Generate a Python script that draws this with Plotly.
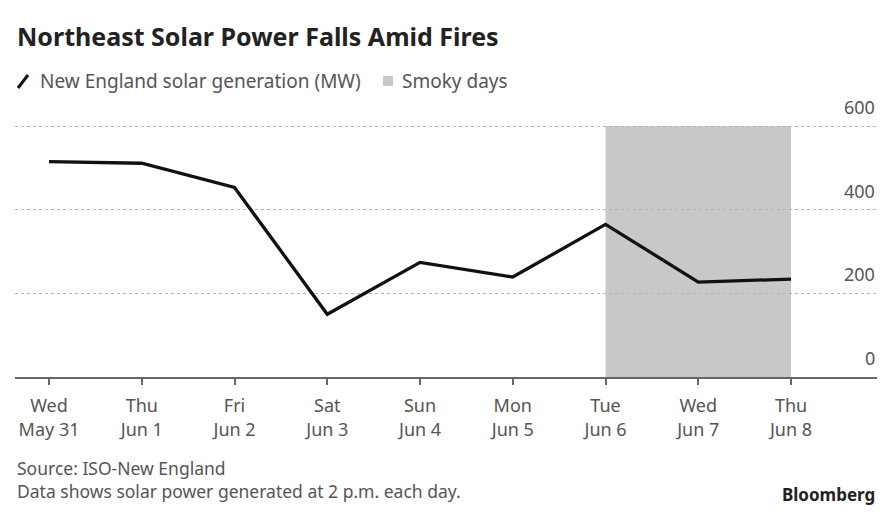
import plotly.graph_objects as go

days = ["Wed", "Thu", "Fri", "Sat", "Sun", "Mon", "Tue", "Wed", "Thu"]
dates = ["May 31", "Jun 1", "Jun 2", "Jun 3", "Jun 4", "Jun 5", "Jun 6", "Jun 7", "Jun 8"]
solar_mw = [515, 511, 453, 150, 274, 239, 365, 227, 234]
smoky_start, smoky_end = 6, 8  # indices of Tue Jun 6 .. Thu Jun 8
y_ticks = [0, 200, 400, 600]

FONT = "Noto Sans"
GRAY = "#555555"

xs = list(range(len(days)))
ticktext = [f"{d}<br>{dt}" for d, dt in zip(days, dates)]

# page has an 8px body margin; reference-pixel helpers
OFF = 8
Y_TOP = 612  # a little headroom so the 600 gridline is drawn
PLOT_H = 256

def px_x(px):
    return (px - 15) / 862

def px_y(py):
    return (377 - py) / PLOT_H

fig = go.Figure()
fig.add_trace(go.Scatter(x=xs, y=solar_mw, mode="lines",
                         line=dict(color="#111111", width=3.3),
                         showlegend=False, hoverinfo="skip"))

fig.add_shape(type="rect", xref="x", yref="y", x0=smoky_start, x1=smoky_end,
              y0=y_ticks[0], y1=y_ticks[-1], fillcolor="#c8c8c8",
              line=dict(width=0), layer="below")

fig.update_layout(
    width=892 - OFF, height=513 - OFF,
    margin=dict(l=15 - OFF, r=15, t=377 - PLOT_H - OFF, b=136),
    paper_bgcolor="white", plot_bgcolor="rgba(0,0,0,0)",
    font=dict(family=FONT, color=GRAY, size=18),
    showlegend=False,
)
fig.update_xaxes(range=[-0.367, 8.927], tickvals=xs, ticktext=ticktext,
                 showgrid=False, zeroline=False, showline=True,
                 linecolor="#666666", linewidth=1.5,
                 ticks="outside", ticklen=6, tickcolor="#666666", tickwidth=1.5,
                 ticklabelstandoff=6,
                 tickfont=dict(size=18, color=GRAY, family=FONT))
fig.update_yaxes(range=[0, Y_TOP], tickvals=y_ticks, side="right",
                 showticklabels=False,
                 showgrid=True, gridcolor="#b5b5b5", gridwidth=1, griddash="dot",
                 zeroline=False, showline=False)

for v in y_ticks:
    fig.add_annotation(text=str(v), xref="paper", yref="y", x=1, y=v,
                       xanchor="right", yanchor="bottom", yshift=5,
                       showarrow=False, font=dict(size=18, color=GRAY, family=FONT))

# Title
fig.add_annotation(text="<b>Northeast Solar Power Falls Amid Fires</b>",
                   xref="paper", yref="paper", x=px_x(15), y=px_y(36),
                   xanchor="left", yanchor="middle", showarrow=False,
                   font=dict(size=25, color="#222222", family=FONT))

# Legend: slash line + text, gray square + text
fig.add_shape(type="line", xref="paper", yref="paper",
              x0=px_x(18), y0=px_y(88), x1=px_x(28), y1=px_y(75),
              line=dict(color="#111111", width=3))
fig.add_annotation(text="New England solar generation (MW)", xref="paper", yref="paper",
                   x=px_x(38), y=px_y(81), xanchor="left", yanchor="middle",
                   showarrow=False, font=dict(size=19, color=GRAY, family=FONT))
fig.add_shape(type="rect", xref="paper", yref="paper",
              x0=px_x(383), y0=px_y(86), x1=px_x(393), y1=px_y(76),
              fillcolor="#c8c8c8", line=dict(width=0))
fig.add_annotation(text="Smoky days", xref="paper", yref="paper",
                   x=px_x(400), y=px_y(81), xanchor="left", yanchor="middle",
                   showarrow=False, font=dict(size=19, color=GRAY, family=FONT))

# Footer
fig.add_annotation(text="Source: ISO-New England<br>Data shows solar power generated at 2 p.m. each day.",
                   xref="paper", yref="paper", x=px_x(15), y=px_y(479),
                   xanchor="left", yanchor="middle", align="left", showarrow=False,
                   font=dict(size=17.5, color=GRAY, family=FONT))
fig.add_annotation(text="<b>Bloomberg</b>", xref="paper", yref="paper",
                   x=px_x(877), y=px_y(494), xanchor="right", yanchor="middle",
                   showarrow=False, font=dict(size=17, color="#222222", family=FONT))

fig.write_html("out.html")
